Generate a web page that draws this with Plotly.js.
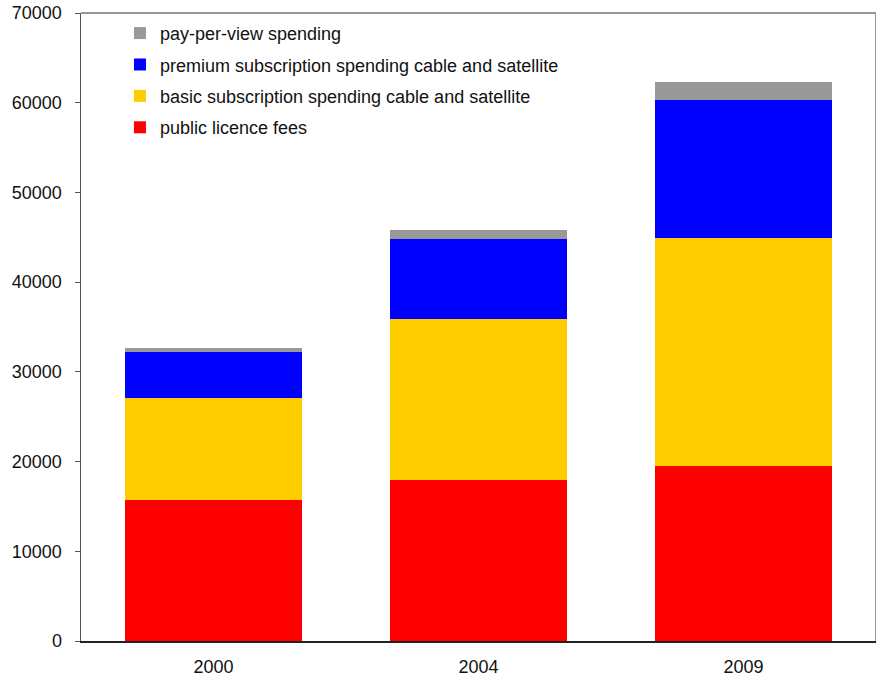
<!DOCTYPE html>
<html>
<head>
<meta charset="utf-8">
<script src="https://cdn.plot.ly/plotly-3.0.1.min.js"></script>
<style>html,body{margin:0;padding:0;background:#fff;}#chart{width:876px;height:678px;}</style>
</head>
<body>
<div id="chart"></div>
<script>
const years = ['2000', '2004', '2009'];
const publicLicenceFees = [15700, 17950, 19500];
const basicSubscription = [11400, 17950, 25400];
const premiumSubscription = [5100, 8900, 15400];
const payPerView = [450, 1000, 2000];

const seriesNames = [
  'public licence fees',
  'basic subscription spending cable and satellite',
  'premium subscription spending cable and satellite',
  'pay-per-view spending'
];
const seriesValues = [publicLicenceFees, basicSubscription, premiumSubscription, payPerView];
const seriesColors = ['#ff0000', '#ffcc00', '#0000ff', '#999999'];

const traces = seriesNames.map((name, i) => ({
  type: 'bar',
  name: name,
  x: years,
  y: seriesValues[i],
  legendgroup: 'g' + i,
  legendrank: 1000 - i,
  marker: {color: seriesColors[i], line: {width: 0}},
  hoverinfo: 'none'
}));

const layout = {
  width: 876,
  height: 678,
  margin: {l: 81, r: 0, t: 13, b: 37},
  paper_bgcolor: '#ffffff',
  plot_bgcolor: '#ffffff',
  barmode: 'stack',
  bargap: 0.332,
  font: {family: 'Liberation Sans, Arial, sans-serif', size: 18, color: '#111111'},
  xaxis: {
    type: 'category',
    range: [-0.5, 2.5],
    showline: true,
    linecolor: '#222222',
    linewidth: 1.5,
    ticks: '',
    showgrid: false,
    zeroline: false,
    ticklabelstandoff: 9,
    tickfont: {size: 18}
  },
  yaxis: {
    range: [0, 70000],
    dtick: 10000,
    tick0: 0,
    tickformat: 'd',
    showline: true,
    linecolor: '#555555',
    linewidth: 1.5,
    ticks: 'outside',
    ticklen: 5,
    tickcolor: '#555555',
    tickwidth: 1,
    showgrid: false,
    zeroline: false,
    ticklabelstandoff: 9,
    tickfont: {size: 18}
  },
  showlegend: true,
  legend: {
    x: 0.049,
    y: 0.997,
    xanchor: 'left',
    yanchor: 'top',
    traceorder: 'grouped',
    tracegroupgap: 5,
    bgcolor: 'rgba(0,0,0,0)',
    font: {size: 18}
  },
  shapes: [
    {type: 'line', xref: 'paper', yref: 'paper', x0: 0, x1: 1, y0: 1, y1: 1, line: {color: '#999999', width: 2}},
    {type: 'line', xref: 'paper', yref: 'paper', x0: 1, x1: 1, y0: 0, y1: 1, line: {color: '#999999', width: 2}}
  ]
};

Plotly.newPlot('chart', traces, layout, {displayModeBar: false, staticPlot: true});
</script>
</body>
</html>
